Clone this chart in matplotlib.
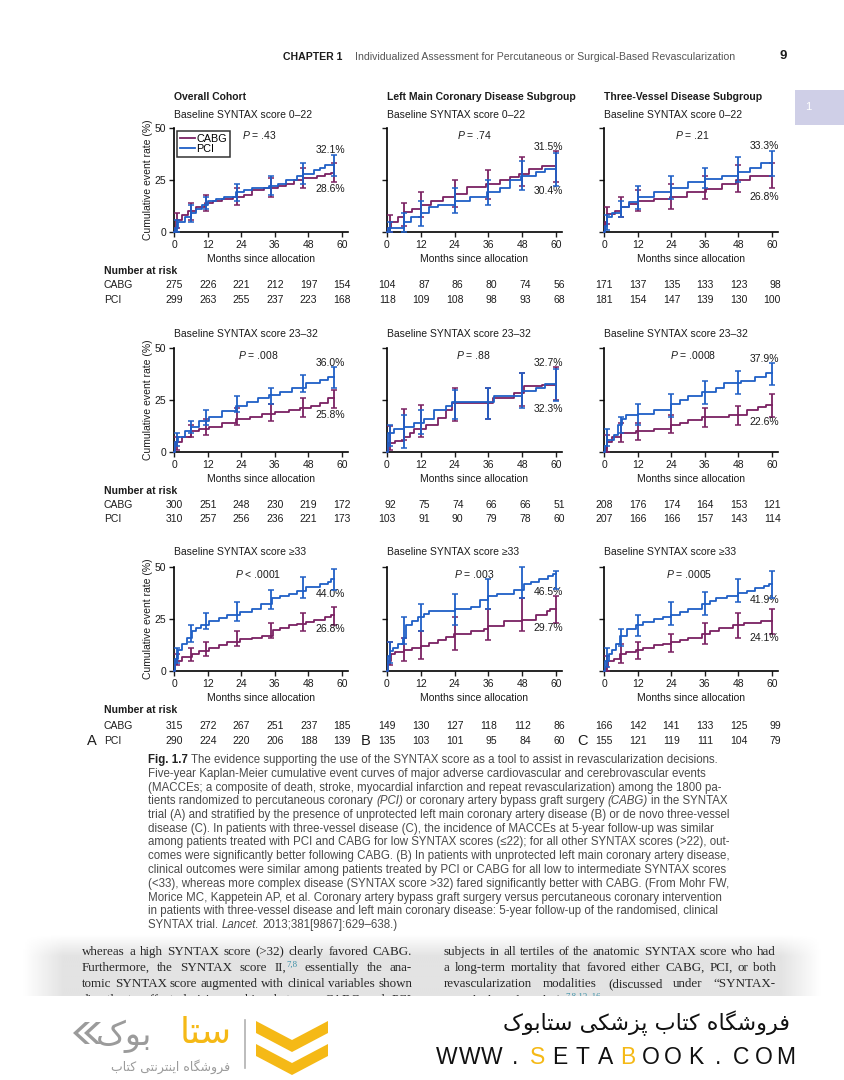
import numpy as np
import matplotlib
matplotlib.use('Agg')
import matplotlib.pyplot as plt
import matplotlib.transforms as mtrans
from matplotlib.patches import Polygon, Rectangle

plt.rcParams['font.family'] = ['Liberation Sans', 'DejaVu Sans']
plt.rcParams['mathtext.fontset'] = 'custom'
plt.rcParams['mathtext.rm'] = 'Liberation Sans'
plt.rcParams['mathtext.it'] = 'Liberation Sans:italic'

CABG_COLOR = '#7a2162'
PCI_COLOR = '#1f5fc6'
INK = '#1c1c1c'

# ---------------- data ----------------
month_ticks = [0, 12, 24, 36, 48, 60]
bar_t_overall = [1, 6, 11.5, 22.5, 34.5, 46, 57]
bar_t_sub = [1, 6, 12, 24, 36, 48, 60]

column_titles = ['Overall Cohort', 'Left Main Coronary Disease Subgroup',
                 'Three-Vessel Disease Subgroup']
row_titles = ['Baseline SYNTAX score 0\u201322', 'Baseline SYNTAX score 23\u201332',
              'Baseline SYNTAX score \u226533']
p_values = [['= .43', '= .74', '= .21'],
            ['= .008', '= .88', '= .0008'],
            ['< .0001', '= .003', '= .0005']]
end_top = [['32.1%', '31.5%', '33.3%'],
           ['36.0%', '32.7%', '37.9%'],
           ['44.0%', '46.5%', '41.9%']]
end_bottom = [['28.6%', '30.4%', '26.8%'],
              ['25.8%', '32.3%', '22.6%'],
              ['26.8%', '29.7%', '24.1%']]

# (month, cumulative event rate %) steps and 95% CI bars (low, high)
r1a_cabg = [(0, 0), (0.6, 6), (3, 8), (5, 10), (8, 12), (11, 14), (14, 15), (17, 16), (21, 17),
            (25, 18), (28, 20), (32, 21), (37, 22), (40, 23), (43, 25), (46, 26), (51, 27),
            (54, 28), (56, 28.6), (57, 28.6)]
r1a_cabg_ci = [(2, 9), (6, 14), (10, 18), (13, 21), (17, 26), (21, 31), (24, 33)]
r1a_pci = [(0, 0), (0.5, 2), (1.5, 5), (4, 7), (6, 9), (8, 11), (10, 13), (12, 15), (15, 16),
           (18, 17), (22, 19), (25, 20), (28, 21), (34, 22), (37, 23), (40, 25), (44, 27),
           (46, 28), (50, 30), (52, 31), (54, 32.1), (57, 32.1)]
r1a_pci_ci = [(0, 6), (5, 13), (11, 17), (15, 23), (18, 27), (23, 33), (27, 37)]

r1b_cabg = [(0, 0), (0.5, 2), (1.5, 5), (4, 7), (6, 9.5), (9, 11), (12, 13), (15.5, 15), (20, 17),
            (24, 18.5), (28.5, 21.5), (35, 23), (40, 25), (43.5, 26.5), (47, 28), (50.5, 30.5),
            (55, 31.5), (60, 31.5)]
r1b_cabg_ci = [(0, 8), (3, 14), (7, 19), (12, 25), (16, 30), (22, 36), (24, 39)]
r1b_pci = [(0, 0), (0.5, 2), (6, 5), (8.5, 7), (12, 9), (15, 12), (18, 13), (24, 15), (29.5, 17),
           (35.5, 19), (40, 21), (43.5, 25), (47.5, 27), (53, 29), (56, 30.4), (60, 30.4)]
r1b_pci_ci = [(0, 5), (0, 9), (3, 15), (9, 21), (13, 25), (20, 34), (22, 38)]

r1c_cabg = [(0, 0), (0.5, 5), (1, 8.8), (4, 10), (6, 12), (9, 13.5), (12, 15), (18, 16),
            (23.5, 17), (29.5, 19), (36.5, 20.5), (42, 23), (47, 25), (52, 26.8), (60, 26.8)]
r1c_cabg_ci = [(4, 12), (7, 17), (10, 20), (11, 23), (16, 27), (19, 32), (21, 33)]
r1c_pci = [(0, 0), (0.5, 3), (1, 7), (3, 9), (6, 12), (9, 14.5), (12, 17), (18, 19), (24, 21),
           (30, 24), (36, 25.5), (42, 27), (48, 29), (52, 31), (56, 33.3), (60, 33.3)]
r1c_pci_ci = [(1, 8), (7, 15), (11, 22), (16, 27), (21, 31), (24, 36), (27, 39)]

r2a_cabg = [(0, 0), (0.5, 5), (3, 7), (6, 10), (9, 11), (12.5, 12), (17, 14), (22, 16), (27, 17),
            (31.5, 18.5), (36, 19), (41, 20), (45, 21), (49, 22), (52, 23.5), (55, 25.8), (57, 25.8)]
r2a_cabg_ci = [(1, 7), (7, 13), (8, 16), (13, 21), (15, 23), (17, 26), (21, 30)]
r2a_pci = [(0, 0), (0.5, 5), (1.6, 7), (4, 10), (6, 12), (9, 15), (12.5, 17), (17, 19.5), (22, 22),
           (26, 24), (30, 26), (34, 27.5), (38, 29), (42, 31), (47, 33), (52, 34.5), (55, 36),
           (57, 36)]
r2a_pci_ci = [(3, 9), (9, 15), (13, 20), (19, 27), (23, 31), (29, 37), (31, 41)]

r2b_cabg = [(0, 0), (0.5, 4.5), (3, 5.5), (6, 7), (8, 9), (9.5, 11), (14, 13), (18, 16.5),
            (21, 20), (23, 23.5), (37.5, 26), (45, 28.5), (48.5, 31.5), (55, 32.3), (60, 32.3)]
r2b_cabg_ci = [(1, 12.5), (6, 20.5), (7, 22.5), (15, 31), (16, 31), (22, 38), (25, 41)]
r2b_pci = [(0, 0), (0.4, 9), (2.4, 11), (6, 12), (9.5, 14), (13, 15.7), (16.6, 20), (21, 22),
           (23, 23.8), (38, 27), (48, 29.4), (53, 31), (56, 32.7), (60, 32.7)]
r2b_pci_ci = [(3, 13), (2, 18), (8.5, 20), (16, 30), (16, 31), (21, 38), (24.5, 40)]

r2c_cabg = [(0, 0), (0.8, 2), (1, 5), (3, 7), (6, 9), (11.4, 10), (17.7, 11), (24, 13), (27, 14),
            (30, 15.5), (35, 17), (44.5, 18), (51, 20), (55, 21.5), (58, 22.6), (60, 22.6)]
r2c_cabg_ci = [(0, 8), (5, 14), (6, 14), (9, 18), (12, 21), (13, 22), (17, 28)]
r2c_pci = [(0, 0), (0.5, 3), (1, 6), (3.5, 8), (5, 13), (6.6, 16), (8, 18), (12, 18.5), (18, 20),
           (24, 23), (27, 25), (30, 27), (35, 29), (40, 31), (43, 33), (49, 34), (54, 36),
           (58, 37.9), (60, 37.9)]
r2c_pci_ci = [(3, 11), (9, 17), (13, 23), (17, 28), (23, 34), (28, 39), (32, 43)]

r3a_cabg = [(0, 0), (0.5, 5), (3, 6.5), (6.3, 8), (9, 9.5), (12.6, 11), (16, 12.5), (19, 14),
            (23.7, 15.5), (28, 16), (31.6, 17), (35.5, 19.5), (38, 20.5), (41, 22), (44, 22.5),
            (47, 23.5), (50, 24.5), (54, 26), (56, 26.8), (57, 26.8)]
r3a_cabg_ci = [(3, 8), (5, 11), (7, 14), (12, 19), (16, 23), (19, 28), (22, 31)]
r3a_pci = [(0, 0), (0.5, 6), (1.6, 10), (3, 13), (4.7, 16), (6.3, 19), (8, 20.5), (9.5, 22),
           (12.6, 24), (16, 25.5), (19, 27), (23.7, 28.5), (28, 30), (31, 32), (35, 35), (38, 36),
           (41, 37), (44, 38.5), (47, 40.5), (52, 42), (55, 43), (56, 44), (57, 44)]
r3a_pci_ci = [(4, 11), (14, 22), (20, 28), (24, 33), (30, 39), (35, 45), (39, 49)]

r3b_cabg = [(0, 0), (0.5, 5), (1.5, 8), (2.7, 9), (6.2, 10), (9, 11), (12, 12), (15, 13.5),
            (18, 15), (21, 16.5), (23.8, 17.7), (29.7, 19), (34.4, 20), (36, 21.8), (41.4, 24),
            (48, 24.7), (53, 27), (56.7, 29), (58, 29.7), (60, 29.7)]
r3b_cabg_ci = [(3, 14), (5, 16), (6, 19), (10, 26), (15, 30), (19, 35), (23, 36)]
r3b_pci = [(0, 0), (0.5, 7), (1, 9.7), (2, 11), (3.9, 13), (5.6, 16), (6.8, 22), (9, 24), (11, 26),
           (13, 27.5), (15, 29), (24, 30), (29.7, 31), (33, 34), (36, 36), (39, 37), (45, 39),
           (48.5, 42), (51, 43), (54, 44), (57, 45.5), (59, 46.5), (60, 46.5)]
r3b_pci_ci = [(4, 14), (13, 26), (19, 32), (22, 37), (30, 44), (35, 50), (39.5, 48)]

r3c_cabg = [(0, 0), (0.8, 2), (1.5, 5), (3.5, 6), (5.8, 8), (8, 9), (11.4, 10), (14, 11),
            (17.7, 12.5), (21, 13), (24, 14), (27, 15), (30, 16), (35, 18), (38, 19), (41, 20.5),
            (46, 22), (50, 23), (56, 24.1), (60, 24.1)]
r3c_cabg_ci = [(0, 7), (4, 13), (6, 14), (9, 18), (13, 23), (16, 28), (18, 30)]
r3c_pci = [(0, 0), (0.5, 5), (1.9, 8), (3, 10), (4.3, 13), (5.8, 17), (8.2, 20), (11.4, 22),
           (14, 23.5), (17.7, 25), (21, 26), (24, 27), (27, 28.5), (30, 30), (35, 32), (38, 33.5),
           (40, 35), (44, 36), (47.7, 37.5), (51, 38.5), (54, 40), (57, 41), (59, 41.9), (60, 41.9)]
r3c_pci_ci = [(2, 11), (12, 20), (17, 27), (22, 33), (27, 38), (33, 44), (35, 48)]

# number at risk, per row: [overall, left main, three-vessel]
risk_cabg = [[[275, 226, 221, 212, 197, 154], [104, 87, 86, 80, 74, 56], [171, 137, 135, 133, 123, 98]],
             [[300, 251, 248, 230, 219, 172], [92, 75, 74, 66, 66, 51], [208, 176, 174, 164, 153, 121]],
             [[315, 272, 267, 251, 237, 185], [149, 130, 127, 118, 112, 86], [166, 142, 141, 133, 125, 99]]]
risk_pci = [[[299, 263, 255, 237, 223, 168], [118, 109, 108, 98, 93, 68], [181, 154, 147, 139, 130, 100]],
            [[310, 257, 256, 236, 221, 173], [103, 91, 90, 79, 78, 60], [207, 166, 166, 157, 143, 114]],
            [[290, 224, 220, 206, 188, 139], [135, 103, 101, 95, 84, 60], [155, 121, 119, 111, 104, 79]]]

curves = [[(r1a_cabg, r1a_cabg_ci, r1a_pci, r1a_pci_ci), (r1b_cabg, r1b_cabg_ci, r1b_pci, r1b_pci_ci),
           (r1c_cabg, r1c_cabg_ci, r1c_pci, r1c_pci_ci)],
          [(r2a_cabg, r2a_cabg_ci, r2a_pci, r2a_pci_ci), (r2b_cabg, r2b_cabg_ci, r2b_pci, r2b_pci_ci),
           (r2c_cabg, r2c_cabg_ci, r2c_pci, r2c_pci_ci)],
          [(r3a_cabg, r3a_cabg_ci, r3a_pci, r3a_pci_ci), (r3b_cabg, r3b_cabg_ci, r3b_pci, r3b_pci_ci),
           (r3c_cabg, r3c_cabg_ci, r3c_pci, r3c_pci_ci)]]

caption_lines = [
    'Fig. 1.7 The evidence supporting the use of the SYNTAX score as a tool to assist in revascularization decisions.',
    'Five-year Kaplan-Meier cumulative event curves of major adverse cardiovascular and cerebrovascular events',
    '(MACCEs; a composite of death, stroke, myocardial infarction and repeat revascularization) among the 1800 pa-',
    'tients randomized to percutaneous coronary (PCI) or coronary artery bypass graft surgery (CABG) in the SYNTAX',
    'trial (A) and stratified by the presence of unprotected left main coronary artery disease (B) or de novo three-vessel',
    'disease (C). In patients with three-vessel disease (C), the incidence of MACCEs at 5-year follow-up was similar',
    'among patients treated with PCI and CABG for low SYNTAX scores (\u226422); for all other SYNTAX scores (>22), out-',
    'comes were significantly better following CABG. (B) In patients with unprotected left main coronary artery disease,',
    'clinical outcomes were similar among patients treated by PCI or CABG for all low to intermediate SYNTAX scores',
    '(<33), whereas more complex disease (SYNTAX score >32) fared significantly better with CABG. (From Mohr FW,',
    'Morice MC, Kappetein AP, et al. Coronary artery bypass graft surgery versus percutaneous coronary intervention',
    'in patients with three-vessel disease and left main coronary disease: 5-year follow-up of the randomised, clinical',
    'SYNTAX trial. Lancet. 2013;381[9867]:629\u2013638.)',
]
caption_italic = {'(PCI)', '(CABG)', 'Lancet.'}

body_left = [
    'whereas a high SYNTAX score (>32) clearly favored CABG.',
    'Furthermore, the SYNTAX score II, ^7,8 essentially the ana-',
    'tomic SYNTAX score augmented with clinical variables shown',
    'directly to affect decision making between CABG and PCI',
]
body_right = [
    'subjects in all tertiles of the anatomic SYNTAX score who had',
    'a long-term mortality that favored either CABG, PCI, or both',
    'revascularization modalities (discussed under \u201cSYNTAX-',
    'Based Clinical Tools\u201d). ^7,8,13\u201316',
]

# ---------------- page layout (pixels) ----------------
W, H = 844, 1080
fig = plt.figure(figsize=(W / 100, H / 100), dpi=100)
fig.patch.set_facecolor('white')
bg = fig.add_axes([0, 0, 1, 1], zorder=0)
bg.set_xlim(0, W)
bg.set_ylim(H, 0)
bg.axis('off')
renderer = fig.canvas.get_renderer()

col_left = [174, 387, 604]
col_ppm = [2.8, 2.817, 2.8]
row_top = [128, 348, 567]
row_bottom = [232, 452, 671]
risk_rows = [(271, 285, 300), (491, 505, 519), (710, 726, 741)]
title_y = 97
sub_y = [115, 334, 552]
top_lbl_y = [[39.5, 41, 41.5], [43, 43, 44.5], [37, 38, 34]]
bot_lbl_y = [[20.5, 19.5, 17], [18, 20.5, 14.5], [20, 20.5, 16]]
p_x = [[30.5, 31, 31.5], [30, 30.5, 32], [30, 31, 30.5]]
FS = 7.5

for i in range(3):
    for j in range(3):
        left = col_left[j]
        right = left + 62 * col_ppm[j]
        ax = fig.add_axes([left / W, 1 - row_bottom[i] / H, (right - left) / W,
                           (row_bottom[i] - row_top[i]) / H], zorder=2)
        ax.patch.set_alpha(0)
        cabg, cabg_ci, pci, pci_ci = curves[i][j]
        bt = bar_t_overall if j == 0 else bar_t_sub
        for data, ci, col, name, z in ((cabg, cabg_ci, CABG_COLOR, 'CABG', 3),
                                       (pci, pci_ci, PCI_COLOR, 'PCI', 4)):
            t, y = zip(*data)
            ax.plot(t, y, drawstyle='steps-post', color=col, lw=1.3, zorder=z,
                    clip_on=False, label=name)
            lo, hi = np.array(ci, dtype=float).T
            ax.errorbar(bt, (lo + hi) / 2, yerr=(hi - lo) / 2, fmt='none', ecolor=col,
                        elinewidth=1.3, capsize=2.2, capthick=1.1, zorder=z, clip_on=False)
        ax.set_xlim(0, 62)
        ax.set_ylim(0, 50)
        ax.set_xticks(month_ticks)
        ax.set_yticks([0, 25, 50])
        for s in ('top', 'right'):
            ax.spines[s].set_visible(False)
        for s in ('left', 'bottom'):
            ax.spines[s].set_linewidth(1.2)
            ax.spines[s].set_color('black')
        ax.tick_params(direction='out', length=3.5, width=1, labelsize=FS, pad=2,
                       colors=INK)
        ax.set_xlabel('Months since allocation', fontsize=FS, color=INK, labelpad=3)
        if j == 0:
            ax.set_ylabel('Cumulative event rate (%)', fontsize=FS, color=INK, labelpad=1)
        else:
            ax.set_yticklabels([])
        if i == 0 and j == 0:
            leg = ax.legend(loc='upper left', bbox_to_anchor=(0.005, 0.995), fontsize=7.8,
                            handlelength=1.35, handletextpad=0.12, borderpad=0.3,
                            labelspacing=0.0, frameon=True, fancybox=False,
                            borderaxespad=0.2)
            leg.get_frame().set_edgecolor('black')
            leg.get_frame().set_linewidth(1.1)
        ax.text(p_x[i][j], 46.8, '$P$ ' + p_values[i][j], fontsize=FS, color=INK,
                ha='center', va='center')
        lx = 61 if j == 0 else 62.5
        ax.text(lx, top_lbl_y[i][j], end_top[i][j], fontsize=FS, color=INK, ha='right', va='center')
        ax.text(lx, bot_lbl_y[i][j], end_bottom[i][j], fontsize=FS, color=INK, ha='right', va='center')

        # panel headings
        if i == 0:
            bg.text(left, title_y, column_titles[j], fontsize=FS, weight='bold', color=INK,
                    va='center')
        bg.text(left, sub_y[i], row_titles[i], fontsize=FS, color=INK, va='center')

        # number at risk
        tr = mtrans.offset_copy(mtrans.blended_transform_factory(ax.transData, bg.transData),
                                fig=fig, x=9, units='dots')
        for m, nc, npci in zip(month_ticks, risk_cabg[i][j], risk_pci[i][j]):
            ax.text(m, risk_rows[i][1], str(nc), transform=tr, fontsize=FS, color=INK,
                    ha='right', va='center', clip_on=False)
            ax.text(m, risk_rows[i][2], str(npci), transform=tr, fontsize=FS, color=INK,
                    ha='right', va='center', clip_on=False)
    bg.text(104, risk_rows[i][0], 'Number at risk', fontsize=FS, weight='bold', color=INK, va='center')
    bg.text(104, risk_rows[i][1], 'CABG', fontsize=FS, color=INK, va='center')
    bg.text(104, risk_rows[i][2], 'PCI', fontsize=FS, color=INK, va='center')

for lab, x in zip('ABC', (87, 361, 577)):
    bg.text(x, 741, lab, fontsize=10.5, color=INK, va='center')

# ---------------- page header ----------------
bg.text(283, 57, 'CHAPTER 1', fontsize=7.6, weight='bold', color=INK, va='center')
bg.text(355, 57, 'Individualized Assessment for Percutaneous or Surgical-Based Revascularization',
        fontsize=7.6, color='#555555', va='center')
bg.text(779, 56, '9', fontsize=9.5, weight='bold', color=INK, va='center')
bg.add_patch(Rectangle((795, 90), 49, 35, facecolor='#cfcfe7', edgecolor='none'))
bg.text(805, 107, '1', fontsize=8, color='white', va='center')


# ---------------- word placement helpers ----------------
def measure(s, **kw):
    t = bg.text(0, 0, s, **kw)
    w = t.get_window_extent(renderer).width
    t.remove()
    return w


def place_words(x, y, tokens, base, width=None):
    sp = measure('x x', **base) - measure('xx', **base)
    widths = [measure(s, **dict(base, **kw)) for s, kw, glue, dy in tokens]
    gaps = sum(1 for tok in tokens[1:] if not tok[2])
    if width is not None and gaps:
        sp = (width - sum(widths)) / gaps
    for k, ((s, kw, glue, dy), w) in enumerate(zip(tokens, widths)):
        if k > 0 and not glue:
            x += sp
        bg.text(x, y + dy, s, va='baseline', **dict(base, **kw))
        x += w


def merge_runs(tokens):
    # join neighbouring words of the same style into one text run
    runs = []
    for s, kw, glue, dy in tokens:
        if runs and runs[-1][1] == kw and not glue and dy == runs[-1][3]:
            runs[-1] = (runs[-1][0] + ' ' + s, kw, runs[-1][2], dy)
        else:
            runs.append((s, kw, glue, dy))
    return runs


# ---------------- caption ----------------
cap_base = dict(fontsize=8.3, color='#4a4a4a', zorder=2)
for k, line in enumerate(caption_lines):
    toks = []
    for n, wd in enumerate(line.split(' ')):
        kw = {}
        if k == 0 and n < 2:
            kw = dict(weight='bold', color='#222222')
        elif wd in caption_italic:
            kw = dict(style='italic')
        toks.append((wd, kw, False, 0))
    place_words(148, 763 + k * 13.75, merge_runs(toks), cap_base)

# ---------------- body text band ----------------
yy = np.linspace(0, 1, 60)[:, None]
xx = np.linspace(0, 1, 400)[None, :]
vert = np.clip(yy / 0.35, 0, 1)
horiz = np.clip(np.minimum(xx, 1 - xx) / 0.05, 0, 1)
shade = 1 - 0.11 * vert * horiz
bg.imshow(shade, cmap='gray', vmin=0, vmax=1, extent=(22, 822, 996, 934), aspect='auto',
          zorder=1, interpolation='bilinear')
body_base = dict(fontsize=9.4, color='#262626', family=['Liberation Serif', 'DejaVu Serif'], zorder=2)


def body_tokens(line):
    out = []
    for wd in line.split(' '):
        if wd.startswith('^'):
            out.append((wd[1:], dict(fontsize=6.3, color='#3a8fa6'), True, -4))
        else:
            out.append((wd, {}, False, 0))
    return out


for k, line in enumerate(body_left):
    place_words(82, 955 + k * 16, body_tokens(line), body_base, width=330)
for k, line in enumerate(body_right):
    toks = body_tokens(line)
    if k == 3:
        place_words(444, 955 + k * 16, merge_runs(toks), body_base)
    else:
        place_words(444, 955 + k * 16, toks, body_base, width=332)
bg.add_patch(Rectangle((0, 996), W, 84, facecolor='white', edgecolor='none', zorder=5))

# ---------------- footer watermark ----------------
FA = {
    '\u0627': ('\uFE8D', '\uFE8E', None, None),
    '\u0628': ('\uFE8F', '\uFE90', '\uFE91', '\uFE92'),
    '\u067E': ('\uFB56', '\uFB57', '\uFB58', '\uFB59'),
    '\u062A': ('\uFE95', '\uFE96', '\uFE97', '\uFE98'),
    '\u0631': ('\uFEAD', '\uFEAE', None, None),
    '\u0632': ('\uFEAF', '\uFEB0', None, None),
    '\u0633': ('\uFEB1', '\uFEB2', '\uFEB3', '\uFEB4'),
    '\u0634': ('\uFEB5', '\uFEB6', '\uFEB7', '\uFEB8'),
    '\u0641': ('\uFED1', '\uFED2', '\uFED3', '\uFED4'),
    '\u06A9': ('\uFB8E', '\uFB8F', '\uFB90', '\uFB91'),
    '\u06AF': ('\uFB92', '\uFB93', '\uFB94', '\uFB95'),
    '\u0646': ('\uFEE5', '\uFEE6', '\uFEE7', '\uFEE8'),
    '\u0647': ('\uFEE9', '\uFEEA', '\uFEEB', '\uFEEC'),
    '\u0648': ('\uFEED', '\uFEEE', None, None),
    '\u06CC': ('\uFBFC', '\uFBFD', '\uFBFE', '\uFBFF'),
}


def shape_fa(text):
    words = []
    for w in text.split(' '):
        out = []
        for k, c in enumerate(w):
            f = FA[c]
            jp = k > 0 and FA[w[k - 1]][2] is not None
            jn = f[2] is not None and k < len(w) - 1
            g = f[3] if (jp and jn) else f[1] if jp else f[2] if jn else f[0]
            out.append(g)
        words.append(''.join(out)[::-1])
    return ' '.join(words[::-1])


fa_font = ['DejaVu Sans']
YEL = '#f5b916'
GRY = '#9b9b9b'
bg.text(790, 1023, shape_fa('فروشگاه کتاب پزشکی ستابوک'), family=fa_font, fontsize=16,
        color='#111111', ha='right', va='center', zorder=6)
site = 'WWW.SETABOOK.COM'
for k, ch in enumerate(site):
    bg.text(447 + k * 22.6, 1057, ch, fontsize=16.5, color=YEL if k in (4, 8) else '#111111',
            ha='center', va='center', zorder=6)

for x0 in (73, 84):
    bg.add_patch(Polygon([(x0 + 12, 1022), (x0, 1033), (x0 + 12, 1044), (x0 + 17, 1044),
                          (x0 + 5, 1033), (x0 + 17, 1022)], closed=True, facecolor=GRY,
                         edgecolor='none', zorder=6))
bg.text(152, 1036, shape_fa('بوک'), family=fa_font, fontsize=24, color=GRY, ha='right',
        va='center', zorder=6)
bg.text(232, 1033, shape_fa('ستا'), family=fa_font, fontsize=26, color=YEL, ha='right',
        va='center', zorder=6)
bg.text(230, 1067, shape_fa('فروشگاه اینترنتی کتاب'), family=fa_font, fontsize=9,
        color=GRY, ha='right', va='center', zorder=6)
bg.plot([245, 245], [1020, 1068], color='#b0b0b0', lw=1.2, zorder=6)
for y0 in (1021, 1044):
    bg.add_patch(Polygon([(256, y0), (292, y0 + 19), (328, y0), (328, y0 + 12),
                          (292, y0 + 31), (256, y0 + 12)], closed=True, facecolor=YEL,
                         edgecolor='none', zorder=6))

fig.savefig('out.png', dpi=100)
